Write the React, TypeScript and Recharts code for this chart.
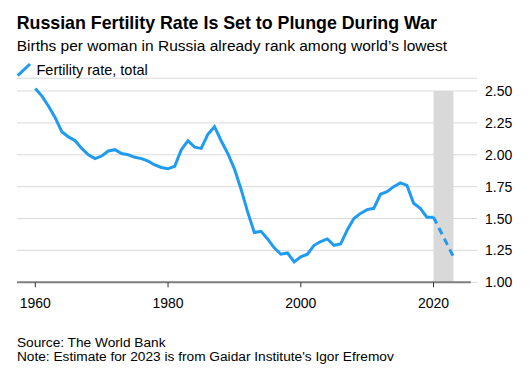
import React from 'react';
import { LineChart, Line, XAxis, YAxis, CartesianGrid, ReferenceArea, ReferenceLine } from 'recharts';

const years = [
  1960, 1961, 1962, 1963, 1964, 1965, 1966, 1967, 1968, 1969,
  1970, 1971, 1972, 1973, 1974, 1975, 1976, 1977, 1978, 1979,
  1980, 1981, 1982, 1983, 1984, 1985, 1986, 1987, 1988, 1989,
  1990, 1991, 1992, 1993, 1994, 1995, 1996, 1997, 1998, 1999,
  2000, 2001, 2002, 2003, 2004, 2005, 2006, 2007, 2008, 2009,
  2010, 2011, 2012, 2013, 2014, 2015, 2016, 2017, 2018, 2019,
  2020,
];
const fertility = [
  2.52, 2.46, 2.38, 2.29, 2.18, 2.14, 2.11, 2.05, 2.0, 1.97,
  1.99, 2.03, 2.04, 2.01, 2.0, 1.98, 1.97, 1.95, 1.92, 1.9,
  1.89, 1.91, 2.04, 2.11, 2.06, 2.05, 2.16, 2.22, 2.11, 2.01,
  1.89, 1.73, 1.55, 1.39, 1.4, 1.34, 1.27, 1.22, 1.23, 1.16,
  1.2, 1.22, 1.29, 1.32, 1.34, 1.29, 1.3, 1.41, 1.5, 1.54,
  1.57, 1.58, 1.69, 1.71, 1.75, 1.78, 1.76, 1.62, 1.58, 1.51,
  1.51,
];
const estimateYears = [2020, 2023];
const estimateValues = [1.51, 1.2];
const xTicks = [1960, 1980, 2000, 2020];
const yTicks = [1, 1.25, 1.5, 1.75, 2, 2.25, 2.5];
const shadeStart = 2020;
const shadeEnd = 2023;

const title = 'Russian Fertility Rate Is Set to Plunge During War';
const subtitle = 'Births per woman in Russia already rank among world\u2019s lowest';
const legendLabel = 'Fertility rate, total';
const source = 'Source: The World Bank';
const note = "Note: Estimate for 2023 is from Gaidar Institute's Igor Efremov";

type Row = { year: number; rate: number | null; estimate: number | null };

const rows: Row[] = years.map((y, i) => ({ year: y, rate: fertility[i], estimate: null }));
estimateYears.forEach((y, i) => {
  const r = rows.find((row) => row.year === y);
  if (r) r.estimate = estimateValues[i];
  else rows.push({ year: y, rate: null, estimate: estimateValues[i] });
});
rows.sort((a, b) => a.year - b.year);

const FONT = '"Liberation Sans", Arial, Helvetica, sans-serif';
const BLUE = '#1f9bf0';
const X_MIN = 1957.243;
const X_MAX = 2026.55;
const AXIS_END = 2025.62;

export default function App() {
  return (
    <div style={{ position: 'absolute', left: 0, top: 0, width: 530, height: 372, background: '#fff', fontFamily: FONT }}>
      <LineChart
        width={530}
        height={372}
        data={rows}
        margin={{ top: 78.25, left: 17, right: 8, bottom: 59.7 }}
      >
        <CartesianGrid vertical={false} stroke="#d9d9d9" strokeWidth={1} />
        <ReferenceArea
          x1={shadeStart}
          x2={shadeEnd}
          y1={1}
          y2={2.5}
          fill="#d9d9d9"
          fillOpacity={1}
          stroke="none"
        />
        <XAxis
          dataKey="year"
          type="number"
          domain={[X_MIN, X_MAX]}
          allowDataOverflow
          ticks={xTicks}
          axisLine={false}
          tickLine={{ stroke: '#333', strokeWidth: 1 }}
          tickSize={5}
          tickMargin={11}
          height={30}
          tick={{ fill: '#000', fontSize: 14, fontFamily: FONT }}
        />
        <YAxis
          orientation="right"
          type="number"
          domain={[1, 2.6]}
          allowDataOverflow
          ticks={yTicks}
          axisLine={false}
          tickLine={false}
          tickSize={0}
          tickMargin={8}
          width={45}
          tickFormatter={(v: number) => v.toFixed(2)}
          tick={{ fill: '#000', fontSize: 14, fontFamily: FONT, textAnchor: 'start' }}
        />
        <ReferenceLine
          segment={[
            { x: X_MIN, y: 1 },
            { x: AXIS_END, y: 1 },
          ]}
          stroke="#7f7f7f"
          strokeWidth={2}
        />
        <Line
          type="linear"
          dataKey="rate"
          stroke={BLUE}
          strokeWidth={3}
          dot={false}
          activeDot={false}
          isAnimationActive={false}
        />
        <Line
          type="linear"
          dataKey="estimate"
          stroke={BLUE}
          strokeWidth={3}
          strokeDasharray="7 5"
          dot={false}
          activeDot={false}
          connectNulls
          isAnimationActive={false}
        />
      </LineChart>
      <svg
        width={530}
        height={372}
        style={{ position: 'absolute', left: 0, top: 0, pointerEvents: 'none' }}
      >
        <text x={16.7} y={29.3} fontFamily={FONT} fontSize={17.8} fontWeight="bold" fill="#000">
          {title}
        </text>
        <text x={16.7} y={51} fontFamily={FONT} fontSize={15.5} fill="#000">
          {subtitle}
        </text>
        <line x1={17.7} y1={75.7} x2={30} y2={64} stroke={BLUE} strokeWidth={3} />
        <text x={36.5} y={75} fontFamily={FONT} fontSize={14.5} fill="#000">
          {legendLabel}
        </text>
        <text x={16.9} y={347} fontFamily={FONT} fontSize={13.7} fill="#000">
          {source}
        </text>
        <text x={16.9} y={361.3} fontFamily={FONT} fontSize={13.7} fill="#000">
          {note}
        </text>
      </svg>
    </div>
  );
}
